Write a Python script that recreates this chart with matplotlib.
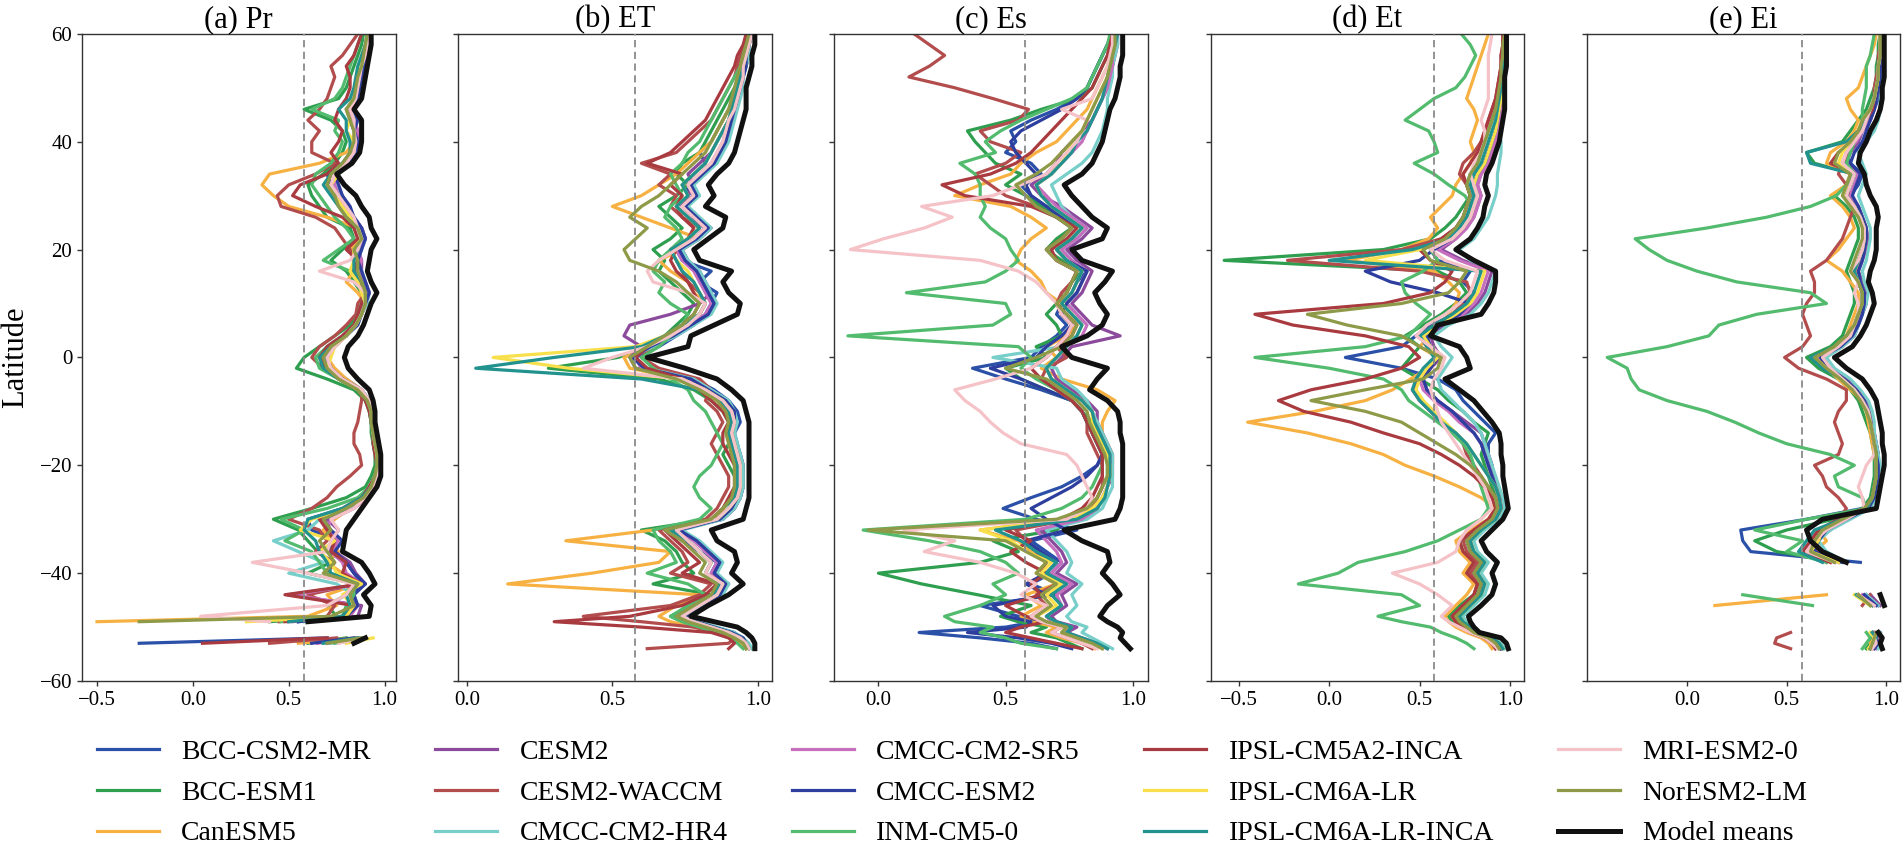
import numpy as np
import matplotlib.pyplot as plt

plt.rcParams['font.family'] = ['Liberation Serif', 'DejaVu Serif']

# latitude grid (finer at the southern tip where the curves break up)
lat = np.array([-54, -53, -52, -51, -50, -49, -48,
                -46, -44, -42, -40, -38, -36, -34, -32, -30, -28,
                -26, -24, -22, -20, -18, -16, -14, -12, -10, -8,
                -6, -4, -2, 0, 2, 4, 6, 8, 10, 12,
                14, 16, 18, 20, 22, 24, 26, 28, 30, 32,
                34, 36, 38, 40, 42, 44, 46, 48, 50, 52,
                54, 56, 58, 60])

models = ['BCC-CSM2-MR', 'BCC-ESM1', 'CanESM5', 'CESM2', 'CESM2-WACCM',
          'CMCC-CM2-HR4', 'CMCC-CM2-SR5', 'CMCC-ESM2', 'INM-CM5-0',
          'IPSL-CM5A2-INCA', 'IPSL-CM6A-LR', 'IPSL-CM6A-LR-INCA',
          'MRI-ESM2-0', 'NorESM2-LM', 'Model means']
colors = ['#2b50a8', '#2e9e4f', '#f7b142', '#8c4a9c', '#b34d4d',
          '#78cfc9', '#c66fbf', '#2d3e9e', '#52bb6e', '#a93a3f',
          '#f7e04b', '#22928f', '#f5c2c7', '#8e9a47', '#111111']

titles = ['(a) Pr', '(b) ET', '(c) Es', '(d) Et', '(e) Ei']
xlims = [(-0.578, 1.057), (-0.03, 1.048), (-0.173, 1.059), (-0.655, 1.077), (-0.503, 1.07)]
xticks = [[-0.5, 0.0, 0.5, 1.0], [0.0, 0.5, 1.0], [0.0, 0.5, 1.0],
          [-0.5, 0.0, 0.5, 1.0], [0.0, 0.5, 1.0]]
threshold = 0.577

# correlation x100, one row per model (same order as `models`), values along `lat`
pr = [
    "nan -28 70 nan nan 55 80 " "85 82 88 84 80 70 75 62 60 78 " "88 93 95 96 96 95 94 93 93 92 " "88 80 70 68 72 80 85 88 90 92 " "88 85 86 84 90 88 84 80 76 72 " "70 78 84 86 84 82 80 84 85 86 " "88 89 90 91",
    "nan 60 80 nan nan 40 75 " "70 80 85 60 72 65 60 55 42 62 " "80 90 93 95 95 94 93 93 92 90 " "84 70 54 58 66 74 82 86 88 88 " "84 80 72 78 84 82 70 66 62 60 " "68 74 78 80 78 72 58 76 80 82 " "84 86 88 89",
    "nan 55 85 nan nan -50 60 " "75 70 86 78 70 76 72 68 74 82 " "90 94 96 96 96 95 94 94 94 92 " "88 80 74 70 72 80 85 88 90 86 " "80 84 86 82 88 86 70 50 42 36 " "40 66 80 84 84 86 84 86 88 89 " "90 91 92 93",
    "nan 70 88 nan nan 50 86 " "88 50 90 85 82 74 72 76 70 82 " "90 94 96 97 96 95 94 93 93 92 " "88 78 70 66 70 78 84 88 90 92 " "90 88 88 86 90 88 84 80 74 70 " "72 80 84 86 86 84 80 86 87 88 " "89 90 91 92",
    "nan 40 75 nan nan 45 70 " "74 60 86 70 74 64 70 66 50 62 " "70 75 82 88 87 84 84 86 87 88 " "88 78 68 62 66 74 80 85 86 90 " "86 84 84 82 78 74 64 46 44 50 " "64 74 62 62 66 60 66 70 72 74 " "72 78 82 86",
    "nan 72 88 nan nan 58 78 " "86 84 75 50 68 55 42 60 66 82 " "90 94 96 97 96 95 95 94 93 92 " "88 78 70 68 72 80 85 88 91 92 " "90 88 86 88 90 88 84 80 78 74 " "76 82 86 86 84 86 82 86 87 88 " "89 90 91 92",
    "nan 65 86 nan nan 52 82 " "86 52 88 80 78 72 76 70 72 84 " "91 94 96 97 96 95 94 93 93 92 " "87 77 70 68 72 80 85 88 90 92 " "90 86 88 86 90 88 84 80 76 74 " "74 80 84 85 86 84 82 85 86 88 " "89 90 91 92",
    "nan 62 84 nan nan 55 80 " "86 84 90 84 80 74 78 72 68 80 " "90 94 96 97 96 95 94 93 93 92 " "87 78 72 70 74 80 86 88 90 92 " "90 88 86 88 90 88 84 82 78 76 " "74 82 86 86 84 86 84 86 87 88 " "89 90 91 92",
    "nan 74 90 nan nan 46 78 " "80 84 84 70 66 62 48 58 46 70 " "86 92 95 96 95 94 94 93 92 90 " "86 76 66 64 70 78 84 86 88 90 " "88 82 68 76 84 80 74 70 66 62 " "64 72 76 78 74 76 62 74 78 80 " "82 84 86 88",
    "nan 5 70 nan nan 48 78 " "84 48 88 78 80 72 74 70 66 78 " "88 92 95 96 95 94 94 93 92 90 " "86 76 70 66 70 78 84 86 88 90 " "88 84 86 80 86 84 78 64 52 56 " "70 76 72 76 78 74 76 80 82 82 " "80 84 86 88",
    "nan 80 94 nan nan 28 80 " "84 78 88 75 72 66 74 56 62 80 " "89 93 95 96 96 95 94 93 93 91 " "86 76 70 72 74 80 85 88 90 88 " "86 82 84 84 88 86 82 78 74 72 " "76 80 82 84 80 82 80 84 85 86 " "87 88 90 91",
    "nan 68 86 nan nan 50 78 " "82 80 86 72 70 66 64 58 60 78 " "88 93 95 96 96 95 94 93 93 91 " "86 76 68 66 72 80 85 88 90 90 " "88 84 84 86 88 86 80 76 72 68 " "72 78 82 82 80 80 76 82 84 85 " "86 88 90 91",
    "nan 76 90 nan nan 40 4 " "70 80 84 60 31 70 72 76 72 84 " "90 94 96 97 96 95 94 94 93 92 " "88 78 72 70 74 80 85 88 90 90 " "84 66 82 86 88 86 84 80 76 72 " "74 80 84 85 84 84 82 85 86 87 " "88 90 91 92",
    "nan 70 88 nan nan -28 72 " "84 82 86 68 74 70 66 72 68 80 " "89 93 95 96 96 95 94 93 93 91 " "86 76 70 68 72 80 85 88 90 90 " "88 86 86 84 88 86 80 76 74 70 " "72 78 82 84 84 82 80 84 85 86 " "88 89 90 91",
    "nan 84 90 nan nan 60 92 " "93 89 95 92 88 78 79 80 84 88 " "92 96 98 98 98 97 96 95 95 94 " "92 86 81 79 81 86 89 91 93 96 " "93 91 92 93 96 93 92 88 85 79 " "75 83 87 88 88 88 84 88 89 90 " "91 92 93 93",
]

et = [
    "97 96 94 92 85 80 74 " "82 86 90 84 86 80 74 70 88 92 " "94 95 95 95 94 93 92 94 93 90 " "85 78 60 58 66 72 78 82 84 86 " "80 84 74 72 78 82 76 72 78 74 " "78 82 80 84 86 88 90 92 94 95 " "96 97 97 98",
    "96 95 92 88 80 74 70 " "78 84 64 78 74 72 68 60 84 88 " "92 93 92 90 88 90 92 90 88 84 " "78 66 28 52 62 68 72 76 78 74 " "70 66 68 64 70 74 70 66 72 76 " "72 74 80 82 84 86 88 90 92 94 " "95 96 96 97",
    "96 94 90 86 78 70 66 " "72 80 14 43 66 70 34 64 84 90 " "93 95 95 94 92 90 90 92 90 86 " "80 74 56 54 64 70 76 80 82 78 " "76 70 66 74 80 70 60 50 60 66 " "72 76 80 84 86 88 90 92 93 94 " "94 95 96 97",
    "97 96 94 90 84 76 72 " "78 84 88 82 84 80 76 72 88 92 " "94 95 95 95 94 92 90 92 92 88 " "82 76 58 56 60 54 56 70 80 84 " "82 80 76 74 80 84 78 74 76 78 " "76 80 84 86 88 90 91 92 93 94 " "95 96 97 98",
    "62 90 92 86 78 60 40 " "70 80 84 70 76 74 70 66 82 86 " "88 90 90 88 86 84 86 88 86 82 " "84 80 66 60 64 70 76 80 82 80 " "76 74 72 70 76 80 74 70 72 66 " "70 60 72 76 80 84 86 88 90 92 " "93 94 96 97",
    "98 97 95 92 86 80 76 " "82 88 90 86 88 84 80 74 88 92 " "94 95 95 95 94 93 92 93 92 90 " "84 78 62 56 64 72 78 84 86 84 " "82 80 76 74 80 84 80 76 80 78 " "82 86 88 90 91 92 93 94 95 95 " "96 97 97 98",
    "97 96 94 90 84 78 74 " "80 86 88 84 86 82 78 72 86 90 " "93 94 94 94 93 92 91 92 91 88 " "82 76 60 58 62 70 76 82 84 82 " "80 78 74 72 78 82 78 74 78 76 " "80 84 86 88 89 90 92 93 94 95 " "95 96 97 98",
    "97 96 95 91 85 79 75 " "81 87 89 85 87 83 79 73 87 91 " "93 94 94 94 93 92 91 92 92 89 " "83 77 61 57 63 71 77 83 85 83 " "81 79 75 73 79 83 79 75 79 77 " "81 85 87 89 90 91 92 93 94 95 " "96 96 97 98",
    "95 93 90 86 80 74 70 " "76 82 76 62 72 70 66 64 80 84 " "80 78 80 84 86 88 86 84 82 78 " "76 70 64 60 66 70 74 76 70 66 " "68 64 66 70 74 72 68 70 74 72 " "70 74 76 80 82 84 86 88 90 92 " "94 95 96 96",
    "90 92 90 84 60 30 56 " "74 82 86 74 80 76 72 68 84 88 " "90 92 92 92 90 88 88 90 88 84 " "80 74 62 58 62 68 74 78 80 78 " "76 72 70 72 76 78 74 72 74 70 " "74 62 70 74 78 82 84 86 88 90 " "92 93 95 96",
    "97 96 94 90 84 78 74 " "80 86 88 82 84 80 76 70 86 90 " "93 94 94 94 93 92 91 92 91 88 " "82 74 35 9 58 68 74 80 82 80 " "78 76 72 70 76 80 76 72 76 74 " "78 82 84 86 88 90 91 92 93 94 " "95 96 97 98",
    "97 96 94 90 84 78 74 " "80 85 87 82 84 80 76 70 86 90 " "92 93 93 93 92 91 90 91 90 87 " "80 60 3 30 60 68 74 80 82 80 " "78 74 72 70 76 80 76 72 76 74 " "78 82 84 86 88 90 91 92 93 94 " "95 96 97 98",
    "97 96 94 90 84 78 74 " "80 86 88 82 84 80 76 72 86 90 " "93 94 94 94 93 92 91 92 91 88 " "82 74 40 50 62 70 76 80 82 76 " "64 62 66 72 78 82 78 74 78 76 " "80 84 86 88 89 90 92 93 94 95 " "95 96 97 98",
    "96 95 92 88 82 76 72 " "78 84 86 80 82 78 74 68 84 88 " "91 92 92 92 91 90 89 90 89 86 " "80 72 58 56 62 68 74 78 80 76 " "72 66 56 54 58 62 56 60 66 70 " "74 78 82 84 86 88 90 91 92 93 " "94 95 96 97",
    "99 99 98 96 93 85 77 " "83 90 95 91 93 92 86 84 95 96 " "97 97 97 97 97 97 97 97 96 95 " "91 86 75 62 76 77 85 93 94 90 " "88 91 80 78 83 88 89 82 85 83 " "86 90 92 93 94 95 96 96 96 97 " "98 98 99 99",
]

es = [
    "70 60 40 16 50 62 55 " "40 70 60 68 72 66 60 78 62 49 " "60 72 80 86 88 86 84 82 80 76 " "64 50 37 60 64 70 74 70 72 76 " "78 82 74 70 76 80 72 66 60 56 " "64 60 50 54 52 60 70 78 82 84 " "86 88 90 92",
    "80 75 70 60 66 55 48 " "60 39 17 0 40 55 45 70 75 82 " "86 88 90 90 90 88 86 84 80 76 " "66 56 50 66 62 72 70 66 70 74 " "76 80 72 66 70 76 70 64 58 50 " "56 46 42 38 35 52 64 78 84 86 " "88 90 91 92",
    "85 80 72 66 70 60 56 " "64 58 70 62 66 60 55 40 72 82 " "86 88 90 92 92 90 88 88 90 93 " "86 72 64 70 66 74 78 76 72 66 " "64 60 54 56 60 66 60 52 30 40 " "52 56 62 70 74 78 82 84 86 88 " "90 91 92 92",
    "90 86 80 74 78 70 68 " "74 72 78 70 74 72 68 64 80 86 " "88 90 92 92 92 90 88 86 86 82 " "76 70 68 72 76 95 84 80 76 80 " "82 84 78 74 80 84 78 72 64 60 " "66 70 72 76 80 84 86 88 90 91 " "92 93 94 94",
    "84 80 74 68 72 64 60 " "66 62 70 64 66 62 58 54 76 84 " "86 88 88 88 86 84 82 82 80 76 " "70 64 66 74 70 76 78 74 70 72 " "76 78 70 66 72 76 70 62 50 44 " "38 50 56 44 40 55 59 45 30 12 " "20 26 20 14",
    "92 88 84 80 82 76 74 " "78 76 80 74 76 74 70 66 82 88 " "90 92 92 92 92 90 88 86 84 82 " "78 72 70 45 72 78 80 78 74 78 " "80 82 76 72 78 82 76 72 70 68 " "74 80 84 86 88 89 90 90 91 92 " "92 93 94 94",
    "88 84 78 72 76 68 66 " "72 70 76 68 72 70 66 62 80 86 " "88 90 91 91 91 89 87 85 84 80 " "74 68 66 70 74 80 82 78 74 78 " "80 82 76 72 78 82 76 70 66 62 " "68 72 76 80 82 84 86 88 90 91 " "92 92 93 94",
    "76 68 55 35 58 60 50 " "45 66 58 66 70 64 58 74 66 60 " "68 76 82 86 88 86 84 82 80 76 " "66 56 44 62 66 72 76 72 74 78 " "80 82 74 70 76 80 72 66 60 58 " "62 58 54 52 56 64 72 78 82 84 " "86 88 90 92",
    "70 56 50 40 45 30 26 " "40 50 45 55 50 40 20 -6 58 72 " "80 84 86 88 88 86 84 82 80 76 " "70 62 56 60 55 -12 45 52 50 11 " "42 50 55 52 50 44 40 42 40 40 " "38 32 46 42 48 56 66 76 82 84 " "86 88 90 91",
    "80 70 60 50 56 66 58 " "50 64 60 66 58 52 60 50 72 80 " "84 86 88 88 88 86 84 82 80 76 " "70 64 60 66 70 74 76 72 70 74 " "76 78 70 68 74 78 70 60 34 25 " "44 54 60 64 68 72 76 80 84 86 " "88 90 91 92",
    "88 84 78 72 74 66 62 " "70 66 72 64 68 58 52 40 76 84 " "88 90 91 91 90 88 86 84 84 80 " "74 68 66 70 74 78 80 76 72 76 " "78 80 74 70 76 80 74 68 64 62 " "68 72 74 76 80 82 84 86 88 90 " "91 92 93 93",
    "90 86 80 74 76 70 66 " "72 68 74 66 70 62 56 46 78 86 " "89 90 91 91 91 89 87 85 84 80 " "74 68 66 70 74 78 80 76 72 76 " "78 80 74 70 76 80 74 68 64 62 " "68 72 76 78 82 84 86 88 89 90 " "91 92 93 94",
    "86 80 74 68 72 64 60 " "66 56 62 54 40 18 30 10 74 82 " "84 82 80 78 74 56 49 44 40 34 " "30 46 60 66 70 74 76 72 70 66 " "62 55 40 -11 2 18 29 17 45 56 " "66 70 74 78 80 82 72 84 86 88 " "90 91 92 92",
    "88 84 78 72 74 66 62 " "68 64 70 62 66 58 50 -4 70 82 " "86 88 90 90 89 87 85 83 82 78 " "72 66 50 62 72 76 78 74 70 74 " "76 78 70 66 72 76 70 62 58 54 " "62 68 72 76 80 82 84 86 88 90 " "91 92 93 93",
    "99 97 95 96 94 90 87 " "90 95 92 88 91 90 80 73 93 95 " "96 96 96 96 96 96 95 95 94 90 " "83 86 90 76 72 82 88 90 87 85 " "89 92 80 76 88 90 84 80 76 73 " "80 84 86 88 89 90 91 93 94 95 " "95 96 96 96",
]

et_t = [
    "95 92 88 80 76 72 70 " "76 82 84 80 84 78 76 82 92 96 " "94 92 90 90 88 88 92 86 80 74 " "70 60 40 9 40 48 56 70 76 80 " "74 78 60 56 68 74 78 80 82 80 " "82 86 88 90 92 93 94 95 95 96 " "96 97 97 97",
    "94 90 86 78 72 68 66 " "72 80 82 76 80 74 72 80 90 94 " "92 90 88 86 84 86 88 80 74 66 " "60 50 40 45 50 42 52 62 70 76 " "72 60 -58 30 56 64 70 74 78 76 " "78 82 84 86 88 90 92 93 94 95 " "95 96 96 97",
    "90 88 84 76 70 66 64 " "70 76 80 74 78 72 70 78 88 92 " "84 72 58 42 30 12 -12 -45 -8 20 " "35 45 55 60 50 56 62 66 70 72 " "66 58 10 40 55 60 56 62 68 70 " "74 78 80 78 80 82 80 76 78 80 " "82 84 86 88",
    "96 94 90 82 78 74 72 " "78 84 86 82 86 80 78 84 93 96 " "95 93 91 90 88 86 84 76 68 60 " "54 52 56 62 58 56 64 76 82 86 " "88 90 74 62 70 76 80 82 84 82 " "84 88 90 92 93 94 95 96 96 96 " "97 97 97 98",
    "92 90 86 78 74 70 68 " "74 80 82 78 82 76 74 80 90 94 " "92 88 84 80 76 74 70 62 56 50 " "46 50 56 60 54 50 58 68 74 78 " "76 50 -23 40 62 70 74 76 78 76 " "72 74 80 84 86 88 90 92 93 94 " "95 95 96 96",
    "97 95 92 84 80 76 74 " "80 86 88 84 88 82 80 86 94 97 " "96 94 92 90 88 86 84 80 74 68 " "62 60 64 68 62 58 66 78 84 88 " "90 92 78 72 80 84 88 90 92 93 " "93 94 95 95 94 95 96 96 97 97 " "97 98 98 98",
    "95 93 89 81 77 73 71 " "77 83 85 81 85 79 77 83 92 95 " "94 92 90 88 86 84 80 72 66 58 " "52 50 54 60 56 54 62 74 80 84 " "86 88 72 60 70 76 80 82 84 82 " "84 88 90 92 93 94 95 95 96 96 " "97 97 97 98",
    "95 93 89 81 77 73 71 " "77 83 85 81 85 79 77 83 92 95 " "94 92 90 88 86 84 80 74 68 60 " "54 52 56 60 56 54 62 72 78 60 " "34 20 50 58 68 74 78 80 82 80 " "82 86 88 90 92 93 94 95 95 96 " "96 97 97 97",
    "80 76 70 62 56 40 27 " "50 40 -17 5 16 42 60 72 84 88 " "86 84 82 80 78 74 68 60 52 44 " "40 30 0 -41 20 44 50 56 48 42 " "40 52 60 56 66 72 76 79 75 66 " "58 47 60 58 55 42 50 58 70 75 " "78 81 78 73",
    "92 90 86 78 74 70 68 " "74 80 82 76 80 74 72 80 88 92 " "90 86 80 72 62 50 30 12 -14 -28 " "-10 20 40 50 44 20 -20 -41 30 56 " "64 68 56 50 62 70 74 76 78 76 " "74 78 82 84 86 88 90 92 93 94 " "95 95 96 96",
    "96 94 90 82 78 74 72 " "78 84 86 82 86 80 78 84 92 95 " "94 92 88 84 80 76 70 64 58 52 " "48 50 54 60 56 52 60 70 78 82 " "84 86 20 50 68 74 78 80 82 80 " "82 86 88 90 92 93 94 95 95 96 " "96 97 97 97",
    "96 94 90 82 78 74 72 " "78 84 86 82 86 80 78 84 92 95 " "94 92 88 84 80 76 70 62 56 50 " "46 48 52 58 54 50 58 68 76 80 " "82 84 0 46 66 72 76 78 80 78 " "80 84 86 88 90 92 93 94 95 95 " "96 96 97 97",
    "93 90 86 78 72 66 62 " "68 60 50 35 60 70 72 76 84 90 " "88 86 82 78 74 70 66 62 60 58 " "56 58 62 64 56 48 54 64 72 78 " "80 82 64 56 68 74 78 80 82 80 " "78 80 84 86 86 84 86 88 88 88 " "88 88 89 90",
    "94 92 88 80 76 72 70 " "76 82 84 80 84 78 76 82 90 93 " "92 88 84 78 70 60 50 40 20 -10 " "20 52 60 62 50 40 10 -12 40 66 " "72 76 56 52 64 70 74 76 78 76 " "78 82 84 86 88 90 92 93 94 95 " "95 96 96 97",
    "99 98 95 83 80 78 77 " "84 90 92 90 93 87 84 90 96 99 " "98 97 96 96 95 95 94 90 85 80 " "72 64 78 76 72 56 60 84 88 91 " "92 92 80 70 78 82 85 86 88 86 " "87 90 92 94 95 96 97 97 97 97 " "98 98 98 98",
]

ei = [
    "92 95 94 96 nan nan nan " "96 90 nan nan 87 32 28 27 60 88 " "94 95 96 96 96 95 94 93 92 90 " "86 80 72 66 76 82 84 86 88 88 " "86 84 86 88 90 90 88 86 82 86 " "88 82 80 86 88 92 94 96 96 97 " "97 98 98 98",
    "90 92 93 94 nan nan nan " "92 86 nan nan 78 45 34 50 74 88 " "92 93 94 94 94 93 92 90 88 86 " "82 76 66 60 72 78 80 82 84 84 " "82 80 82 84 86 86 84 80 74 80 " "84 64 60 78 82 86 90 92 94 95 " "95 96 96 97",
    "94 92 94 95 nan nan nan " "14 70 nan nan 72 64 70 66 80 90 " "93 94 95 95 94 93 92 91 90 88 " "82 76 70 66 74 80 82 84 86 86 " "82 78 70 76 80 84 82 78 72 80 " "82 70 72 80 84 86 82 80 86 88 " "90 92 94 95",
    "95 96 95 97 nan nan nan " "97 92 nan nan 76 62 64 68 78 90 " "94 95 96 96 96 95 94 93 92 90 " "86 80 72 68 78 84 86 88 90 90 " "88 86 88 90 91 90 88 86 82 84 " "86 80 82 86 88 92 94 95 96 97 " "97 98 98 98",
    "52 44 45 52 nan nan nan " "88 92 nan nan 70 66 64 72 76 80 " "76 70 68 64 76 78 76 74 76 80 " "80 70 56 49 58 62 60 58 60 64 " "64 62 70 74 78 80 82 84 82 80 " "76 78 82 84 86 90 92 94 94 95 " "96 96 97 97",
    "96 97 96 97 nan nan nan " "96 90 nan nan 80 70 66 72 82 92 " "95 96 96 97 96 95 94 94 93 91 " "87 82 74 70 78 84 86 88 90 91 " "89 88 90 91 92 92 90 88 86 88 " "90 88 86 90 94 96 97 97 98 98 " "98 98 98 98",
    "93 95 96 94 nan nan nan " "94 88 nan nan 74 60 62 66 76 90 " "93 94 95 95 95 94 93 92 91 89 " "85 79 71 66 76 82 85 87 89 89 " "87 85 87 89 90 90 88 85 82 84 " "86 78 80 85 88 91 93 95 96 96 " "97 97 98 98",
    "94 96 95 96 nan nan nan " "95 89 nan nan 78 64 66 70 80 91 " "94 95 96 96 95 94 93 92 91 89 " "85 79 71 67 77 83 86 88 89 89 " "87 86 88 89 90 90 88 86 83 85 " "87 82 84 88 90 92 94 95 96 97 " "97 97 98 98",
    "88 90 92 90 nan nan nan " "63 28 nan nan 70 50 58 34 60 90 " "88 76 74 84 72 50 36 24 10 -10 " "-24 -28 -30 -40 -10 11 16 35 70 62 " "25 5 -10 -19 -26 10 40 62 75 80 " "84 80 82 84 86 88 88 89 90 90 " "90 92 93 94",
    "92 94 95 93 nan nan nan " "93 86 nan nan 72 58 62 66 76 89 " "93 94 95 95 95 94 93 92 91 88 " "84 78 70 64 74 80 84 86 88 88 " "86 84 86 88 89 89 87 84 80 82 " "84 72 76 84 86 90 93 94 95 96 " "96 97 97 98",
    "91 93 94 92 nan nan nan " "92 84 nan nan 76 62 66 68 78 90 " "93 94 95 95 95 94 93 92 91 88 " "84 78 70 64 74 80 84 86 88 88 " "86 84 86 88 89 89 87 84 78 82 " "84 76 78 82 86 88 92 94 95 96 " "96 97 97 97",
    "92 94 95 93 nan nan nan " "93 85 nan nan 68 56 60 64 78 90 " "93 94 95 95 95 94 93 92 91 88 " "84 78 68 62 74 80 84 86 88 88 " "86 84 86 88 89 89 87 84 80 82 " "84 62 60 80 86 90 92 94 95 96 " "96 97 97 98",
    "93 95 94 95 nan nan nan " "94 86 nan nan 74 60 64 70 80 89 " "88 86 88 90 94 94 93 92 91 88 " "84 78 72 68 76 82 84 86 86 84 " "86 82 86 88 89 89 87 84 80 82 " "84 78 80 84 88 90 92 94 95 96 " "96 97 97 97",
    "92 93 94 95 nan nan nan " "92 86 nan nan 74 62 64 68 78 89 " "93 94 95 95 95 94 93 92 90 87 " "83 77 70 64 74 80 84 86 88 88 " "86 82 84 86 88 88 86 82 78 80 " "82 74 76 82 86 88 92 94 95 96 " "96 97 97 97",
    "98 97 98 96 nan nan nan " "99 97 nan nan 80 68 62 60 68 95 " "96 97 98 99 99 98 98 97 96 95 " "92 88 80 74 83 87 90 92 94 93 " "91 92 94 95 95 95 96 95 92 90 " "89 86 87 90 92 95 97 98 98 99 " "99 99 99 99",
]


def to_arrays(rows):
    out = []
    for r in rows:
        v = np.array(r.split(), dtype=float) / 100
        assert v.size == lat.size, (v.size, r[:40])
        out.append(v)
    return out


panels = [pr, et, es, et_t, ei]

fig, axes = plt.subplots(1, 5, figsize=(19.04, 8.46), dpi=100, sharey=True)
fig.subplots_adjust(left=0.0431, right=0.998, bottom=0.195, top=0.960, wspace=0.2)

for ax, rows, title, xl, xt in zip(axes, panels, titles, xlims, xticks):
    vals = to_arrays(rows)
    for i, v in enumerate(vals):
        if i == len(vals) - 1:
            ax.plot(v, lat, color=colors[i], lw=3.6, label=models[i], zorder=5)
        else:
            ax.plot(v, lat, color=colors[i], lw=2.3, label=models[i], zorder=2)
    ax.axvline(threshold, color='#8a8a8a', ls=(0, (4, 2.5)), lw=1.3, zorder=3)
    ax.set_xlim(*xl)
    ax.set_xticks(xt)
    ax.set_ylim(-60, 60)
    ax.set_yticks([-60, -40, -20, 0, 20, 40, 60])
    ax.set_title(title, fontsize=22, pad=4)
    ax.tick_params(labelsize=15, width=1.0, color='#333333')
    for s in ax.spines.values():
        s.set_color('#333333')
        s.set_linewidth(1.0)

axes[0].set_ylabel('Latitude', fontsize=22, labelpad=7)

handles, labels = axes[0].get_legend_handles_labels()
fig.legend(handles, labels, loc='lower center', bbox_to_anchor=(0.5, -0.030),
           ncol=5, frameon=False, fontsize=20, handlelength=2.25,
           handletextpad=0.8, columnspacing=2.3, labelspacing=0.55)

fig.savefig('out.png', dpi=100)
